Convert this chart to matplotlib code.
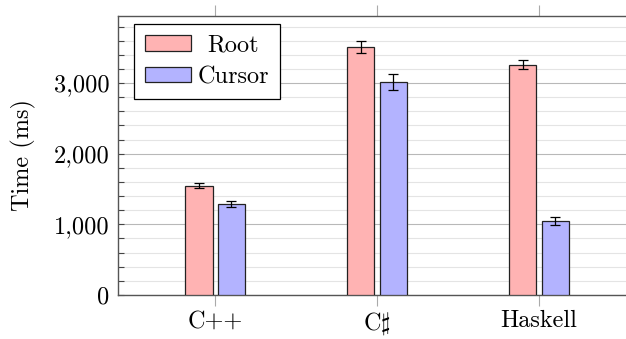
import matplotlib.pyplot as plt
import numpy as np
from matplotlib.ticker import MultipleLocator, FuncFormatter

plt.rcParams['font.family'] = ['cmr10', 'DejaVu Serif']
plt.rcParams['mathtext.fontset'] = 'cm'
plt.rcParams['axes.formatter.use_mathtext'] = True

# Data
languages = ["C++", r"C$\sharp$", "Haskell"]
root_ms = [1548, 3508, 3262]
root_err = [33, 88, 64]
cursor_ms = [1293, 3013, 1052]
cursor_err = [42, 111, 57]

fs = 17.5

fig = plt.figure(figsize=(6.26, 3.39), dpi=100)
# right edge of axis runs past the figure (cropped like the original)
ax = fig.add_axes([0.1885, 0.130, 0.828, 0.823])

x = np.arange(len(languages))
w = 0.167
ebar = dict(ecolor="black", elinewidth=0.9, capsize=3.8, capthick=0.9)
ax.bar(x - 0.1, root_ms, w, yerr=root_err, color="#ffb3b3", edgecolor="#222222",
       linewidth=0.9, label="Root", error_kw=ebar, zorder=3)
ax.bar(x + 0.1, cursor_ms, w, yerr=cursor_err, color="#b3b3ff", edgecolor="#222222",
       linewidth=0.9, label="Cursor", error_kw=ebar, zorder=3)

ax.set_xlim(-0.6, 2.6)
ax.set_ylim(0, 3950)
ax.set_xticks(x)
ax.set_xticklabels(languages, fontsize=fs)
ax.yaxis.set_major_locator(MultipleLocator(1000))
ax.yaxis.set_minor_locator(MultipleLocator(200))
ax.yaxis.set_major_formatter(FuncFormatter(lambda v, p: f"{int(v):,}"))
ax.tick_params(axis='y', labelsize=fs, direction='in', length=4, width=0.8,
               color="#444444", right=True, which='both', pad=6)
ax.tick_params(axis='x', direction='out', length=8, width=0.8, color="#aaaaaa",
               top=True, pad=3)
ax.grid(axis='y', which='major', color="#b8b8b8", linewidth=0.8, zorder=0)
ax.grid(axis='y', which='minor', color="#e4e4e4", linewidth=0.8, zorder=0)
ax.set_axisbelow(True)

for s in ['left', 'bottom', 'top', 'right']:
    ax.spines[s].set_color("#555555")
    ax.spines[s].set_linewidth(1.0)

ax.set_ylabel("Time (ms)", fontsize=fs, labelpad=13)

leg = ax.legend(loc='upper left', bbox_to_anchor=(0.031, 0.972), fontsize=fs,
                fancybox=False, edgecolor="black", framealpha=1,
                handlelength=1.9, handleheight=0.62, handletextpad=0.25,
                labelspacing=0.38, borderpad=0.45, borderaxespad=0)
leg.get_frame().set_linewidth(0.9)

# centre the legend labels in their column, like pgfplots does
fig.canvas.draw()
r = fig.canvas.get_renderer()
texts = leg.get_texts()
widths = [t.get_window_extent(r).width for t in texts]
for t, wd in zip(texts, widths):
    t.set_position(((max(widths) - wd) / 2, 0))

fig.savefig("out.png", dpi=100)
